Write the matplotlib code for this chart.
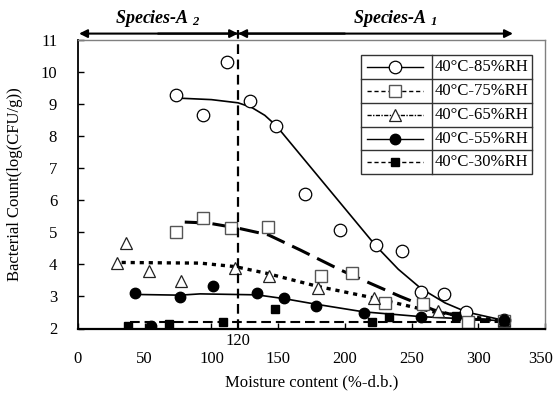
import matplotlib
matplotlib.use("Agg")
import matplotlib.pyplot as plt
import matplotlib.transforms as mtransforms
from matplotlib.lines import Line2D
from matplotlib.patches import Rectangle

plt.rcParams['font.family'] = ['Liberation Serif', 'DejaVu Serif']
plt.rcParams['mathtext.fontset'] = 'custom'
plt.rcParams['mathtext.rm'] = 'Liberation Serif:bold:italic'
plt.rcParams['mathtext.it'] = 'Liberation Serif:bold:italic'
plt.rcParams['lines.scale_dashes'] = False

# measured points (moisture %-d.b., log CFU/g)
rh85_x = [73.5, 93.5, 112, 128.7, 148.5, 170, 196.5, 223, 242.7, 257, 274, 290.8, 319.5]
rh85_y = [9.27, 8.67, 10.32, 9.11, 8.33, 6.19, 5.06, 4.59, 4.43, 3.15, 3.08, 2.51, 2.27]
rh75_x = [73.5, 93.5, 114.8, 142.7, 182, 205, 230, 258.5, 292, 319]
rh75_y = [5.0, 5.44, 5.13, 5.18, 3.64, 3.72, 2.81, 2.77, 2.21, 2.23]
rh65_x = [29.5, 36, 53, 77, 118, 143.5, 180, 222, 269.5, 319]
rh65_y = [4.04, 4.68, 3.78, 3.49, 3.90, 3.65, 3.26, 2.94, 2.56, 2.25]
rh55_x = [43, 54.5, 76.5, 101.5, 134, 154.7, 178, 214, 257, 319.5]
rh55_y = [3.12, 2.08, 2.98, 3.34, 3.10, 2.94, 2.70, 2.47, 2.37, 2.25]
rh30_x = [37.7, 68.3, 108.5, 147.5, 220, 233, 283, 319.5]
rh30_y = [2.08, 2.13, 2.21, 2.60, 2.21, 2.35, 2.40, 2.24]

# fitted curves
fit85_x = [73.5, 100, 120, 130, 140, 148.5, 170, 196.5, 223, 240, 257, 275, 291.5, 319.5]
fit85_y = [9.19, 9.14, 9.04, 8.9, 8.65, 8.33, 7.25, 5.92, 4.59, 3.85, 3.25, 2.8, 2.51, 2.25]
fit75_x = [80, 97.5, 120, 142.7, 166.5, 196.5, 219, 241.5, 266.5, 294, 319.5]
fit75_y = [5.32, 5.29, 5.13, 4.92, 4.45, 3.83, 3.41, 3.0, 2.58, 2.29, 2.25]
fit65_x = [32.7, 60, 91.5, 117.8, 141.5, 180, 222, 266.5, 319.5]
fit65_y = [4.06, 4.05, 4.04, 3.93, 3.72, 3.31, 2.95, 2.52, 2.23]
fit55_x = [46.5, 76.5, 91.5, 120, 134, 154.7, 178, 214, 257, 319.5]
fit55_y = [3.06, 3.04, 3.08, 3.06, 3.05, 2.93, 2.76, 2.52, 2.37, 2.24]
fit30_x = [39, 319.5]
fit30_y = [2.21, 2.21]

labels = ['40°C-85%RH', '40°C-75%RH', '40°C-65%RH', '40°C-55%RH', '40°C-30%RH']

fig = plt.figure(figsize=(5.55, 3.94), dpi=100)
ax = fig.add_axes([78 / 555, 1 - 328.5 / 394, 467 / 555, 288.5 / 394])

ax.plot(fit85_x, fit85_y, color='black', lw=1.2)
ax.plot(fit75_x, fit75_y, color='black', lw=2.2, dashes=(14, 6))
ax.plot(fit65_x, fit65_y, color='black', lw=2.4, dashes=(3, 3.5))
ax.plot(fit55_x, fit55_y, color='black', lw=1.2)
ax.plot(fit30_x, fit30_y, color='black', lw=1.5, dashes=(7, 3.5))

ax.plot(rh85_x, rh85_y, 'o', ms=9, mfc='white', mec='black', mew=0.9)
ax.plot(rh75_x, rh75_y, 's', ms=8, mfc='white', mec='#555555', mew=1.0)
ax.plot(rh65_x, rh65_y, '^', ms=8.5, mfc='white', mec='#222222', mew=0.9)
ax.plot(rh55_x, rh55_y, 'o', ms=7.5, color='black')
ax.plot(rh30_x, rh30_y, 's', ms=5.5, color='black')

# boundary between the two species regions
ax.plot([120, 120], [2, 11.3], color='black', lw=1.6, dashes=(7, 4), clip_on=False)

ax.set_xlim(0, 350)
ax.set_ylim(2, 11)
ax.set_xticks(range(0, 351, 50))
ax.set_yticks(range(2, 12))
ax.tick_params(direction='in', length=4, width=1, labelsize=12)
ax.tick_params(axis='x', pad=16)
ax.tick_params(axis='y', pad=15)
for s in ['top', 'right']:
    ax.spines[s].set_color('#808080')
    ax.spines[s].set_linewidth(1.0)
ax.spines['left'].set_linewidth(1.3)
ax.spines['bottom'].set_linewidth(1.6)

# keep the last tick label inside the canvas
fig.canvas.draw()
last = ax.get_xticklabels()[-1]
last.set_transform(last.get_transform() +
                   mtransforms.ScaledTranslation(-4 / 100, 0, fig.dpi_scale_trans))

ax.text(120, -0.043, '120', transform=ax.get_xaxis_transform(),
        ha='center', va='center', fontsize=12)
ax.set_xlabel('Moisture content (%-d.b.)', fontsize=12)
ax.xaxis.set_label_coords(0.5, -0.158)
ax.set_ylabel('Bacterial Count(log(CFU/g))', fontsize=12)
ax.yaxis.set_label_coords(-0.118, 0.5)

# species arrows
arrow_y = 11.2
ax.annotate('', xy=(0.8, arrow_y), xytext=(120, arrow_y), annotation_clip=False,
            arrowprops=dict(arrowstyle='-|>', color='black', lw=1.5, mutation_scale=12,
                            shrinkA=0, shrinkB=0))
ax.annotate('', xy=(120, arrow_y), xytext=(60, arrow_y), annotation_clip=False,
            arrowprops=dict(arrowstyle='-|>', color='black', lw=1.5, mutation_scale=12,
                            shrinkA=0, shrinkB=0))
ax.annotate('', xy=(120, arrow_y), xytext=(200, arrow_y), annotation_clip=False,
            arrowprops=dict(arrowstyle='-|>', color='black', lw=1.5, mutation_scale=12,
                            shrinkA=0, shrinkB=0))
ax.annotate('', xy=(326, arrow_y), xytext=(120, arrow_y), annotation_clip=False,
            arrowprops=dict(arrowstyle='-|>', color='black', lw=1.5, mutation_scale=12,
                            shrinkA=0, shrinkB=0))
ax.text(60, 11.68, 'Species-A $_{2}$', ha='center', va='center', fontsize=13,
        fontweight='bold', fontstyle='italic', clip_on=False)
ax.text(238, 11.68, 'Species-A $_{1}$', ha='center', va='center', fontsize=13,
        fontweight='bold', fontstyle='italic', clip_on=False)

# table-style legend
tr = ax.transAxes
lx0, lx1, ldiv = 0.605, 0.9715, 0.757
ly_top, ly_bot = 0.948, 0.5345
rh = (ly_top - ly_bot) / 5
ax.add_patch(Rectangle((lx0, ly_bot), lx1 - lx0, ly_top - ly_bot, transform=tr,
                       facecolor='white', edgecolor='#333333', lw=1.0, zorder=5))
ax.add_line(Line2D([ldiv, ldiv], [ly_bot, ly_top], transform=tr, color='#333333', lw=1.0, zorder=6))
for i in range(1, 5):
    yy = ly_top - i * rh
    ax.add_line(Line2D([lx0, lx1], [yy, yy], transform=tr, color='#333333', lw=1.0, zorder=6))

handle_styles = [
    dict(ls='-', marker='o', ms=9, mfc='white', mec='black', mew=0.9),
    dict(ls=(0, (3, 2)), marker='s', ms=8, mfc='white', mec='#555555', mew=1.0),
    dict(ls=(0, (3, 1, 1, 1)), marker='^', ms=8.5, mfc='white', mec='#222222', mew=0.9),
    dict(ls='-', marker='o', ms=7.5, mfc='black', mec='black'),
    dict(ls=(0, (3, 2)), marker='s', ms=5.5, mfc='black', mec='black'),
]
hx0 = (367.3 - 78) / 467
hx1 = (423.3 - 78) / 467
hxm = (395 - 78) / 467
tx = (434.3 - 78) / 467
for i, (lab, st) in enumerate(zip(labels, handle_styles)):
    yc = ly_top - (i + 0.5) * rh
    st = dict(st)
    ax.add_line(Line2D([hx0, hx1], [yc, yc], transform=tr, color='black', lw=1.0,
                       ls=st.pop('ls'), zorder=7))
    ax.add_line(Line2D([hxm], [yc], transform=tr, color='black', ls='none', zorder=8, **st))
    ax.text(tx, yc, lab, transform=tr, ha='left', va='center', fontsize=12, zorder=8)

fig.savefig('out.png', dpi=100)
